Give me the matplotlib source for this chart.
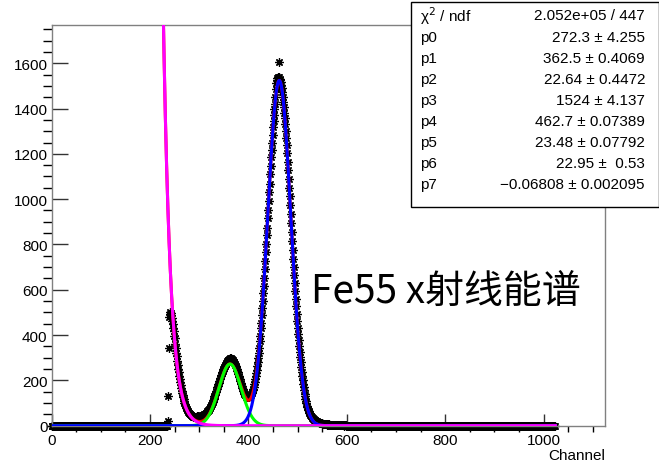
import numpy as np
import matplotlib.pyplot as plt
from matplotlib.ticker import MultipleLocator
from matplotlib.patches import Rectangle

plt.rcParams['font.family'] = ['Liberation Sans', 'DejaVu Sans']

# Fe55 spectrum, counts per channel; channels outside the list are empty
n_channels = 1024
first_ch = 234
counts_list = [
    0, 0, 22, 130, 345, 478,
    495, 503, 498, 489, 474, 460, 447, 431, 417, 398,
    385, 362, 344, 322, 306, 287, 268, 252, 236, 221,
    207, 193, 178, 166, 154, 145, 134, 125, 117, 109,
    102, 95, 90, 84, 78, 74, 70, 65, 62, 58,
    55, 53, 50, 48, 46, 44, 43, 41, 40, 39,
    38, 37, 40, 36, 38, 41, 37, 39, 42, 40,
    40, 41, 43, 42, 44, 45, 46, 47, 48, 49,
    50, 52, 53, 56, 58, 60, 63, 65, 68, 71,
    75, 79, 83, 87, 92, 96, 101, 106, 112, 117,
    123, 129, 135, 142, 148, 155, 162, 169, 176, 183,
    190, 197, 204, 211, 218, 224, 231, 237, 243, 249,
    254, 260, 265, 270, 274, 278, 282, 285, 288, 290,
    292, 295, 297, 296, 298, 296, 294, 292, 290, 287,
    283, 279, 274, 269, 263, 257, 250, 243, 236, 229,
    221, 213, 206, 198, 190, 182, 175, 168, 161, 155,
    150, 145, 141, 137, 134, 131, 128, 127, 126, 125,
    125, 126, 127, 129, 131, 134, 138, 143, 149, 156,
    164, 173, 183, 194, 206, 219, 233, 248, 264, 281,
    298, 322, 341, 372, 398, 430, 455, 489, 520, 551,
    585, 618, 651, 693, 728, 768, 801, 842, 874, 918,
    950, 993, 1030, 1068, 1112, 1146, 1184, 1215, 1250, 1285,
    1318, 1346, 1372, 1398, 1420, 1452, 1488, 1512, 1528, 1536,
    1533, 1540, 1606, 1538, 1530, 1527, 1518, 1506, 1489, 1472,
    1450, 1428, 1406, 1380, 1356, 1330, 1302, 1270, 1238, 1202,
    1166, 1128, 1090, 1050, 1012, 972, 933, 893, 853, 814,
    776, 738, 700, 664, 628, 593, 560, 527, 494, 463,
    433, 405, 377, 350, 325, 302, 280, 259, 239, 219,
    201, 186, 171, 156, 142, 130, 119, 108, 98, 88,
    82, 75, 69, 63, 58, 53, 49, 45, 42, 39,
    36, 33, 31, 29, 27, 25, 23, 22, 21, 19,
    18, 17, 16, 15, 14, 13, 12, 12, 11, 10,
    10, 9, 9, 8, 8, 7, 7, 6, 6, 6,
    5, 6, 4, 5, 6, 4, 3, 5, 4, 3,
    4, 3, 5, 2, 4, 3, 3, 2, 4, 2,
    3, 2, 2, 3, 1, 2, 3, 1, 2, 2,
    1, 2, 1, 1, 2, 0, 1, 1, 0, 1,
]

# fit: gaus(p0..p2) + gaus(p3..p5) + expo(p6, p7)
par_names = ['p0', 'p1', 'p2', 'p3', 'p4', 'p5', 'p6', 'p7']
par_text = ['272.3', '362.5', '22.64', '1524', '462.7', '23.48', '22.95', '-0.06808']
err_text = ['4.255', '0.4069', '0.4472', '4.137', '0.07389', '0.07792', ' 0.53', '0.002095']
chi2_text = '2.052e+05 / 447'

counts = np.zeros(n_channels)
counts[first_ch:first_ch + len(counts_list)] = counts_list
channel = np.arange(n_channels)
p = [float(s) for s in par_text]

xf = np.linspace(0, n_channels, 2000)
g1 = p[0] * np.exp(-0.5 * ((xf - p[1]) / p[2]) ** 2)
g2 = p[3] * np.exp(-0.5 * ((xf - p[4]) / p[5]) ** 2)
bg = np.exp(p[6] + p[7] * xf)
total = g1 + g2 + bg

fig = plt.figure(figsize=(6.59, 4.64), dpi=100)
ax = fig.add_axes([51.7 / 659, 1 - 426.7 / 464, 553.8 / 659, 401.0 / 464])

# markers sitting on zero must not be cut by the frame
ax.plot(channel, counts, ls='none', marker=(8, 2, 0), ms=6, mew=0.9, color='k',
        zorder=2, clip_on=False)
ax.plot(xf, total, color='#ff0000', lw=2.2, zorder=3)
ax.plot(xf, g1, color='#00ff00', lw=2.2, zorder=4)
ax.plot(xf, g2, color='#0000ff', lw=2.2, zorder=5)
ax.plot(xf, bg, color='#ff00ff', lw=2.2, zorder=6)

ax.set_xlim(0, 1126)
ax.set_ylim(0, 1770)
ax.xaxis.set_major_locator(MultipleLocator(200))
ax.xaxis.set_minor_locator(MultipleLocator(50))
ax.yaxis.set_major_locator(MultipleLocator(200))
ax.yaxis.set_minor_locator(MultipleLocator(50))
ax.tick_params(direction='in', top=False, right=False, labelsize=11, colors='#333333', labelcolor='k')
ax.tick_params(axis='y', which='major', length=11.5, width=1, pad=3)
ax.tick_params(axis='y', which='minor', length=6.5, width=1)
ax.tick_params(axis='x', which='major', length=9, width=1, pad=5)
ax.tick_params(axis='x', which='minor', length=4.5, width=1)
for s in ax.spines.values():
    s.set_color('#808080')
    s.set_linewidth(1)

fig.text(605 / 659, 1 - 460 / 464, 'Channel', ha='right', va='baseline', fontsize=11)

# big label
fig.text(311 / 659, 1 - 303.3 / 464, 'Fe55 x射线能谱', fontsize=28,
         family=['Noto Sans CJK SC', 'DejaVu Sans'], va='baseline')

# stats box
box = Rectangle((411 / 659, 1 - 208 / 464), 248 / 659, 205 / 464, transform=fig.transFigure,
                facecolor='white', edgecolor='black', lw=1, zorder=10)
fig.patches.append(box)

rows = [('\u03c7$^{2}$ / ndf', chi2_text)]
for name, v, e in zip(par_names, par_text, err_text):
    rows.append((name, v.replace('-', '\u2212') + ' \u00b1 ' + e))
for i, (name, val) in enumerate(rows):
    y = 1 - (16.5 + 21.05 * i) / 464
    fig.text(420 / 659, y, name, ha='left', va='center', fontsize=11, zorder=11)
    fig.text(645 / 659, y, val, ha='right', va='center', fontsize=11, zorder=11)

fig.savefig('out.png', dpi=100)
